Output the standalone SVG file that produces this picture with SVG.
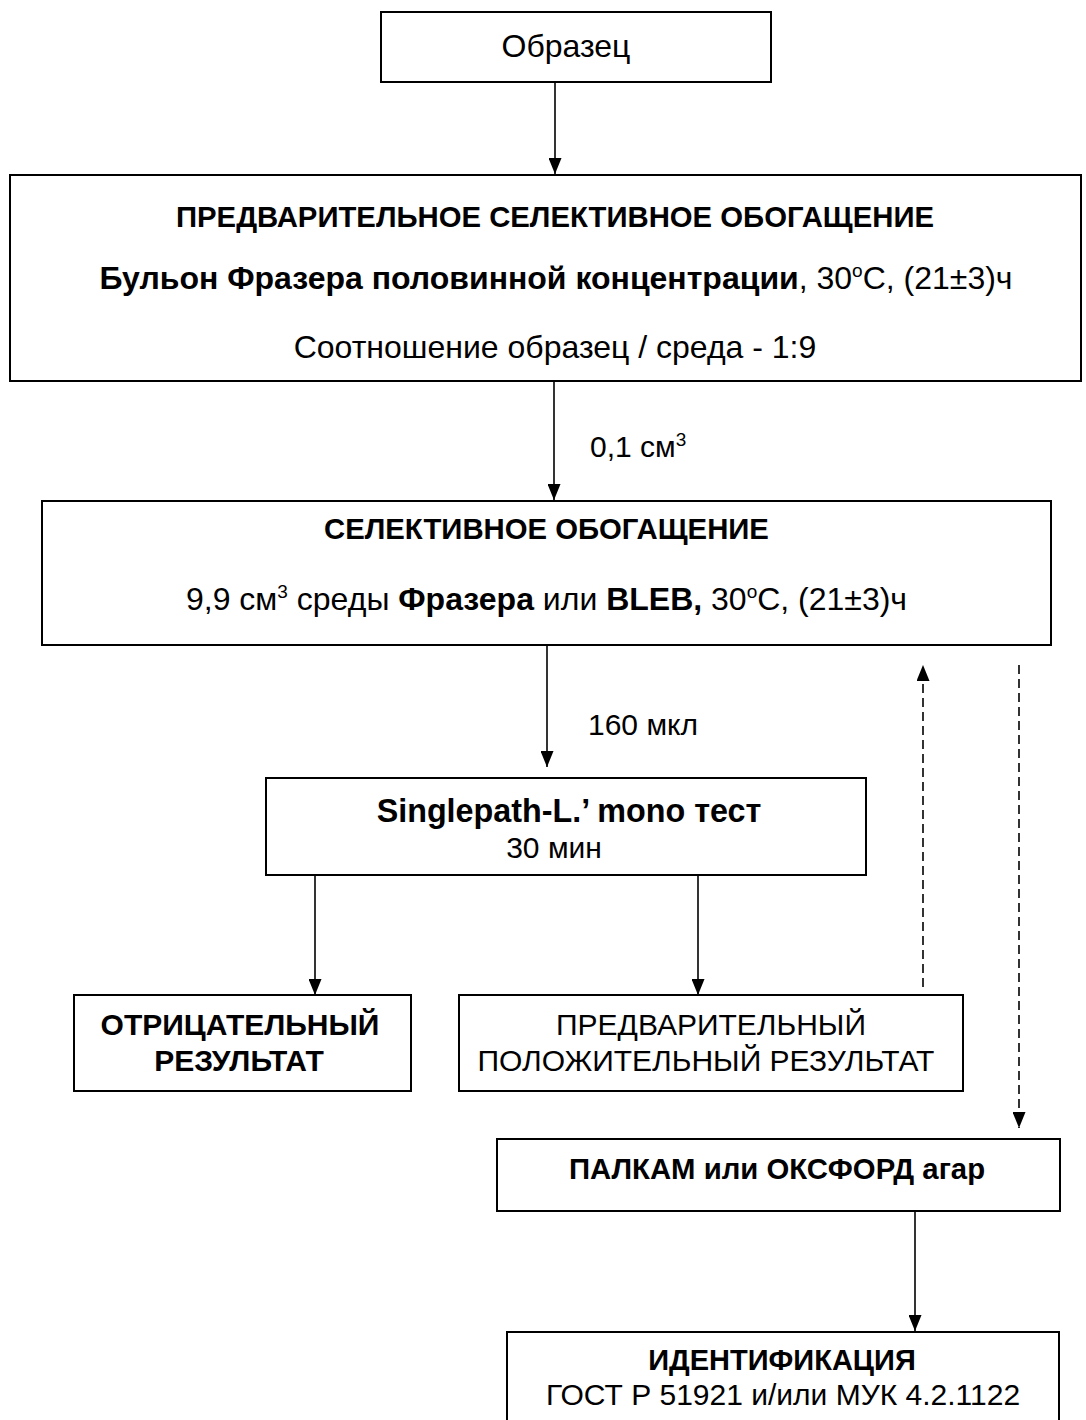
<svg xmlns="http://www.w3.org/2000/svg" width="1086" height="1420" viewBox="0 0 1086 1420">
<style>
.box{fill:#fff;stroke:#000;stroke-width:2}
.t{font-family:"Liberation Sans",Arial,sans-serif;font-size:30px;fill:#000;text-anchor:middle}
.l{text-anchor:start}
.b{font-weight:bold}
.h{font-size:29.3px}
.m{font-size:32px}
.sup{font-size:19px}
.c{stroke:#000;stroke-width:1.6;fill:none}
.d{stroke-dasharray:9,5}
</style>
<defs>
<marker id="ah" viewBox="0 0 16 13" markerWidth="16" markerHeight="13" refX="16" refY="6.5" orient="auto" markerUnits="userSpaceOnUse">
<path d="M0,0 L16,6.5 L0,13 z" fill="#000"/>
</marker>
</defs>
<rect width="1086" height="1420" fill="#fff"/>
<g id="connectors">
<path class="c" d="M555,82 V174" marker-end="url(#ah)"/>
<path class="c" d="M554,381 V500" marker-end="url(#ah)"/>
<path class="c" d="M547,645 V767" marker-end="url(#ah)"/>
<path class="c" d="M315,875 V995" marker-end="url(#ah)"/>
<path class="c" d="M698,875 V995" marker-end="url(#ah)"/>
<path class="c d" d="M923,987 V665" marker-end="url(#ah)"/>
<path class="c d" d="M1019,665 V1128" marker-end="url(#ah)"/>
<path class="c" d="M915,1211 V1331" marker-end="url(#ah)"/>
<text class="t l" x="590" y="457">0,1 см<tspan class="sup" dy="-11">3</tspan></text>
<text class="t l" x="588" y="735">160 мкл</text>
</g>
<g id="sample">
<rect class="box" x="381" y="12" width="390" height="70"/>
<text class="t m" x="566" y="57">Образец</text>
</g>
<g id="pre-enrichment">
<rect class="box" x="10" y="175" width="1071" height="206"/>
<text class="t b h" x="555" y="227">ПРЕДВАРИТЕЛЬНОЕ СЕЛЕКТИВНОЕ ОБОГАЩЕНИЕ</text>
<text class="t m" x="556" y="289"><tspan class="b">Бульон Фразера половинной концентрации</tspan>, 30<tspan class="sup" dy="-12">o</tspan><tspan dy="12">C, (21±3)ч</tspan></text>
<text class="t m" x="555" y="358">Соотношение образец / среда - 1:9</text>
</g>
<g id="enrichment">
<rect class="box" x="42" y="501" width="1009" height="144"/>
<text class="t b h" x="546.5" y="539">СЕЛЕКТИВНОЕ ОБОГАЩЕНИЕ</text>
<text class="t m" x="546.5" y="610">9,9 см<tspan class="sup" dy="-12">3</tspan><tspan dy="12"> среды </tspan><tspan class="b">Фразера</tspan> или <tspan class="b">BLEB,</tspan> 30<tspan class="sup" dy="-12">o</tspan><tspan dy="12">C, (21±3)ч</tspan></text>
</g>
<g id="singlepath">
<rect class="box" x="266" y="778" width="600" height="97"/>
<text class="t b" style="font-size:32.3px" x="569" y="822">Singlepath-L.’ mono тест</text>
<text class="t" x="554" y="858">30 мин</text>
</g>
<g id="negative">
<rect class="box" x="74" y="995" width="337" height="96"/>
<text class="t b" x="240" y="1035">ОТРИЦАТЕЛЬНЫЙ</text>
<text class="t b" x="239" y="1071">РЕЗУЛЬТАТ</text>
</g>
<g id="positive">
<rect class="box" x="459" y="995" width="504" height="96"/>
<text class="t" x="711" y="1035">ПРЕДВАРИТЕЛЬНЫЙ</text>
<text class="t" x="706" y="1071">ПОЛОЖИТЕЛЬНЫЙ РЕЗУЛЬТАТ</text>
</g>
<g id="agar">
<rect class="box" x="497" y="1139" width="563" height="72"/>
<text class="t b h" x="777" y="1179">ПАЛКАМ или ОКСФОРД агар</text>
</g>
<g id="identification">
<rect class="box" x="507" y="1332" width="552" height="100"/>
<text class="t b" style="font-size:29px" x="782" y="1370">ИДЕНТИФИКАЦИЯ</text>
<text class="t" x="783" y="1405">ГОСТ Р 51921 и/или МУК 4.2.1122</text>
</g>
</svg>
